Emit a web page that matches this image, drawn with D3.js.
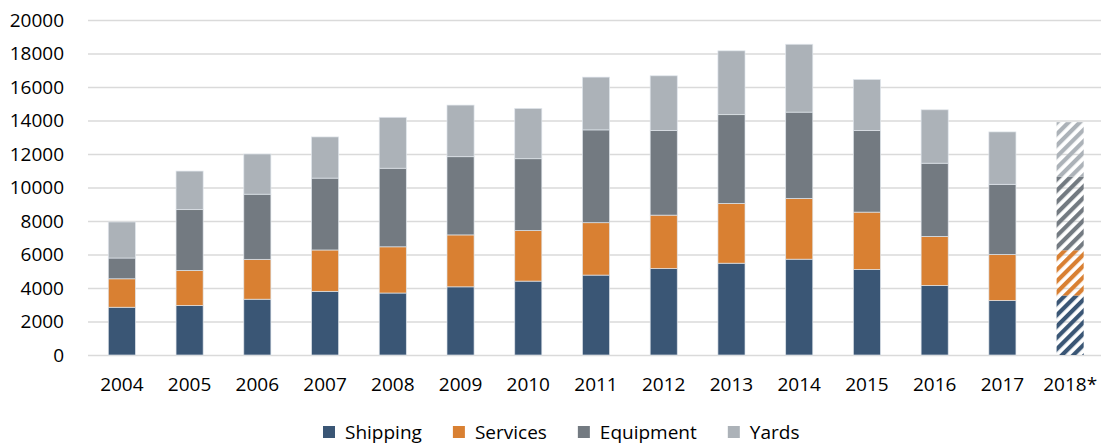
<!DOCTYPE html>
<html>
<head>
<meta charset="utf-8">
<script src="https://cdn.jsdelivr.net/npm/d3@7/dist/d3.min.js"></script>
<style>
  html, body { margin: 0; padding: 0; background: #fff; }
  svg { display: block; }
  text { font-family: "Open Sans", "Noto Sans", sans-serif; fill: #000; }
</style>
</head>
<body>
<svg id="chart" width="1101" height="445"></svg>
<script>
// Yearly totals split by segment; the starred year is a forecast.
const years = ["2004", "2005", "2006", "2007", "2008", "2009", "2010", "2011",
               "2012", "2013", "2014", "2015", "2016", "2017", "2018*"];
const shipping  = [2850, 2950, 3330, 3800, 3700, 4070, 4410, 4770, 5160, 5480, 5720, 5100, 4150, 3250, 3550];
const services  = [1700, 2100, 2380, 2470, 2760, 3100, 3020, 3130, 3190, 3570, 3630, 3430, 2930, 2750, 2700];
const equipment = [1240, 3630, 3890, 4290, 4690, 4670, 4290, 5540, 5050, 5300, 5150, 4870, 4370, 4190, 4400];
const yards     = [2150, 2300, 2400, 2460, 3040, 3080, 3000, 3150, 3270, 3810, 4050, 3050, 3190, 3130, 3250];
const forecastYears = ["2018*"];

const seriesNames = ["Shipping", "Services", "Equipment", "Yards"];
const yTicks = [0, 2000, 4000, 6000, 8000, 10000, 12000, 14000, 16000, 18000, 20000];

const colors = {
  Shipping: "#3a5675",
  Services: "#d98032",
  Equipment: "#737a81",
  Yards: "#acb2b8"
};

const table = years.map((yr, i) => ({
  year: yr,
  Shipping: shipping[i],
  Services: services[i],
  Equipment: equipment[i],
  Yards: yards[i]
}));

const svg = d3.select("#chart");
const plotLeft = 88, plotRight = 1104, plotTop = 20, plotBottom = 355;

const x = d3.scaleBand()
  .domain(years)
  .range([plotLeft, plotRight])
  .paddingInner(0.6)
  .paddingOuter(0.3);

const y = d3.scaleLinear()
  .domain([0, 20000])
  .range([plotBottom, plotTop]);

// Diagonal stripe fills for the forecast bar
const defs = svg.append("defs");
seriesNames.forEach(name => {
  const p = defs.append("pattern")
    .attr("id", "hatch-" + name)
    .attr("patternUnits", "userSpaceOnUse")
    .attr("width", 8)
    .attr("height", 8)
    .attr("patternTransform", "rotate(45)");
  p.append("rect")
    .attr("x", 0).attr("y", 0)
    .attr("width", 4.2).attr("height", 8)
    .attr("fill", colors[name]);
});

// Gridlines and value labels
const yAxis = svg.append("g")
  .attr("transform", `translate(${plotLeft},0)`)
  .call(d3.axisLeft(y)
    .tickValues(yTicks)
    .tickSize(-(plotRight - plotLeft))
    .tickPadding(24)
    .tickFormat(d3.format("d")));
yAxis.select(".domain").remove();
yAxis.selectAll(".tick line")
  .attr("stroke", "#dadada")
  .attr("stroke-width", 1.6);
yAxis.selectAll(".tick text")
  .attr("font-size", 19)
  .attr("fill", "#000");

// Stacked bars
const stack = d3.stack().keys(seriesNames);
const layers = stack(table);

svg.append("g")
  .selectAll("g")
  .data(layers)
  .join("g")
  .each(function (layer) {
    const name = layer.key;
    d3.select(this).selectAll("rect")
      .data(layer)
      .join("rect")
      .attr("x", d => x(d.data.year))
      .attr("width", x.bandwidth())
      .attr("y", d => y(d[1]))
      .attr("height", d => y(d[0]) - y(d[1]))
      .attr("fill", d => forecastYears.includes(d.data.year) ? `url(#hatch-${name})` : colors[name])
      .attr("stroke", d => forecastYears.includes(d.data.year) ? "none" : "rgba(225,230,236,0.85)")
      .attr("stroke-width", 0.8);
  });

// Year labels
const xAxis = svg.append("g")
  .attr("transform", `translate(0,${plotBottom})`)
  .call(d3.axisBottom(x).tickSize(0).tickPadding(0));
xAxis.select(".domain").remove();
xAxis.selectAll(".tick text")
  .attr("y", 29)
  .attr("dy", "0.35em")
  .attr("font-size", 19)
  .attr("fill", "#000");

// Legend
const legend = svg.append("g").attr("transform", "translate(323,432)");
let lx = 0;
seriesNames.forEach(name => {
  const g = legend.append("g").attr("transform", `translate(${lx},0)`);
  g.append("rect")
    .attr("x", 0).attr("y", -6)
    .attr("width", 12).attr("height", 12)
    .attr("fill", colors[name]);
  const t = g.append("text")
    .attr("x", 22)
    .attr("dy", "0.35em")
    .attr("font-size", 19)
    .text(name);
  lx += 22 + t.node().getComputedTextLength() + 31;
});
</script>
</body>
</html>
